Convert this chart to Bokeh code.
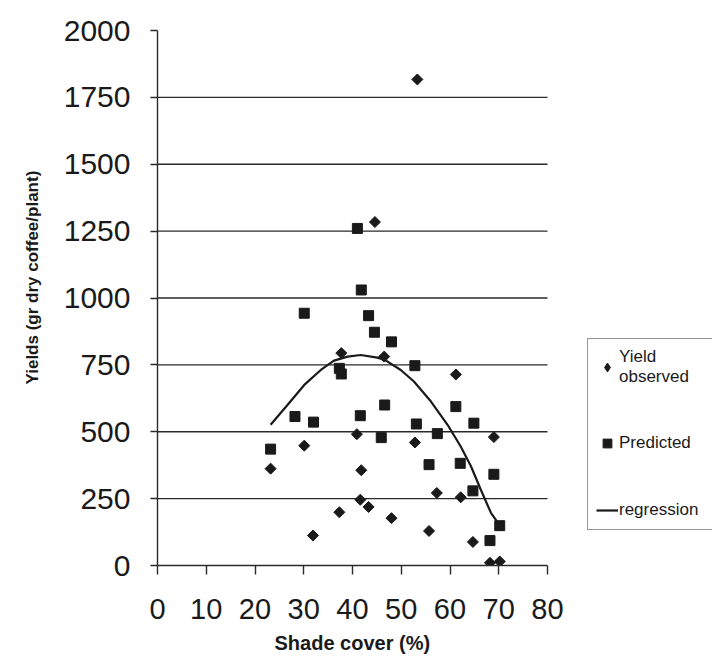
import numpy as np
from bokeh.plotting import figure
from bokeh.models import (Range1d, FixedTicker, Legend, LegendItem, Title)
from bokeh.embed import file_html
from bokeh.resources import INLINE

# ---- data ----
obs_x = [23.2, 30.1, 31.9, 37.3, 37.7, 40.9, 41.8, 41.6, 43.3, 44.6, 46.5, 48.0,
         52.8, 53.3, 55.7, 57.3, 61.2, 62.2, 64.7, 69.0, 68.2, 70.2]
obs_y = [362, 448, 112, 199, 794, 491, 356, 246, 219, 1284, 781, 177,
         460, 1817, 129, 271, 714, 255, 88, 480, 10, 15]

pred_x = [41.0, 41.8, 30.1, 43.3, 44.5, 48.0, 52.8, 37.3, 37.7, 46.6, 61.2, 28.2,
          41.6, 32.0, 53.1, 64.9, 57.4, 45.9, 23.2, 55.7, 62.1, 69.0, 64.7, 70.2, 68.2]
pred_y = [1260, 1030, 943, 934, 872, 836, 747, 737, 716, 600, 594, 557,
          560, 536, 529, 532, 493, 478, 435, 377, 382, 341, 279, 149, 93]

reg_x = [23.2, 26.7, 30.1, 33.5, 36.2, 39.0, 41.7, 45.1, 46.8, 49.9, 52.6, 56.1,
         59.5, 62.2, 64.3, 66.3, 68.4, 70.1]
reg_y = [526, 601, 675, 731, 766, 781, 787, 777, 767, 731, 688, 613,
         526, 445, 371, 284, 197, 153]

x_ticks = [0, 10, 20, 30, 40, 50, 60, 70, 80]
y_ticks = [0, 250, 500, 750, 1000, 1250, 1500, 1750, 2000]
grid_ticks = [250, 500, 750, 1000, 1250, 1500, 1750]

FONT = "Liberation Sans"
INK = "#1a1a1a"
LINE = "#2a2a2a"

W, H = 712, 661
LEFT, TOP, BOTTOM = 157, 30, 95
AXIS_PX = 390  # pixel length of the 0..80 axis
x_end = x_ticks[-1] * (W - LEFT) / AXIS_PX  # frame continues under the legend

p = figure(width=W, height=H, output_backend="svg", toolbar_location=None,
           x_range=Range1d(0, x_end), y_range=Range1d(0, 2000),
           min_border_left=LEFT, min_border_right=0, min_border_top=TOP,
           min_border_bottom=BOTTOM)
p.outline_line_color = None
p.background_fill_color = "white"
p.border_fill_color = "white"

# horizontal grid lines, limited to the 0..80 axis span
p.xgrid.visible = False
p.ygrid.visible = False
p.segment(x0=[x_ticks[0]] * len(grid_ticks), x1=[x_ticks[-1]] * len(grid_ticks),
          y0=grid_ticks, y1=grid_ticks, line_color=LINE, line_width=1.4)

# axes
p.xaxis.ticker = FixedTicker(ticks=x_ticks)
p.yaxis.ticker = FixedTicker(ticks=y_ticks)
p.xaxis.bounds = (x_ticks[0], x_ticks[-1])
for ax in (p.xaxis[0], p.yaxis[0]):
    ax.axis_line_color = LINE
    ax.axis_line_width = 1.4
    ax.major_tick_line_color = LINE
    ax.major_tick_line_width = 1.4
    ax.major_tick_in = 0
    ax.minor_tick_line_color = None
    ax.major_label_text_font = FONT
    ax.major_label_text_color = INK
p.xaxis.major_tick_out = 9
p.yaxis.major_tick_out = 7
p.xaxis.major_label_text_font_size = "29px"
p.yaxis.major_label_text_font_size = "30px"
p.xaxis.major_label_standoff = 24
p.yaxis.major_label_standoff = 20

# axis titles (as side titles so they can sit off the frame centre)
xtitle = Title(text="Shade cover (%)", align="left", offset=117,
               text_font=FONT, text_font_size="20px", text_font_style="bold",
               text_color=INK, standoff=16)
p.add_layout(xtitle, "below")

ytitle = Title(text="Yields (gr dry coffee/plant)", align="left", offset=181,
               text_font=FONT, text_font_size="17px", text_font_style="bold",
               text_color=INK, standoff=38)
p.add_layout(ytitle, "left")

# data
r_obs = p.scatter(obs_x, obs_y, marker="square", angle=np.pi / 4, size=7.8,
                  fill_color=INK, line_color=INK)
r_pred = p.scatter(pred_x, pred_y, marker="square", size=10,
                   fill_color=INK, line_color=INK)
r_reg = p.line(reg_x, reg_y, line_color=INK, line_width=2.2)
# legend key for the observed symbol (holds no visible point)
r_obs_key = p.scatter(x=[np.nan], y=[np.nan], marker="diamond", size=10,
                      fill_color=INK, line_color=INK)

legend = Legend(items=[
    LegendItem(label="Yield\nobserved", renderers=[r_obs_key]),
    LegendItem(label="Predicted", renderers=[r_pred]),
    LegendItem(label="regression", renderers=[r_reg]),
], location=(430, 35), orientation="vertical")
legend.label_text_font = FONT
legend.label_text_font_size = "17px"
legend.label_text_color = INK
legend.glyph_width = 22
legend.glyph_height = 22
legend.label_standoff = 1
legend.label_width = 130
legend.spacing = 45
legend.padding = 8
legend.margin = 0
legend.border_line_color = LINE
legend.border_line_width = 1.2
legend.background_fill_color = "white"
p.add_layout(legend, "center")

open("out.html", "w").write(file_html(p, INLINE))
